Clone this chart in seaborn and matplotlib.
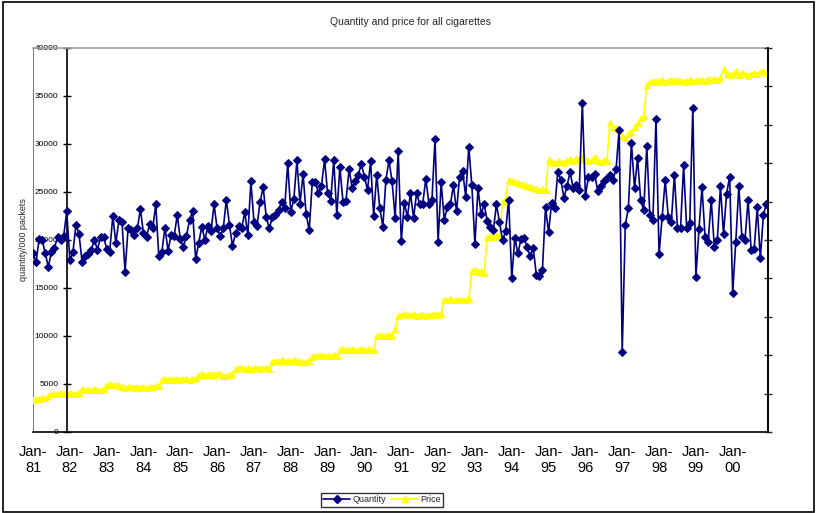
import numpy as np
import pandas as pd
import matplotlib
matplotlib.use("Agg")
import matplotlib.pyplot as plt
import seaborn as sns
from matplotlib.patches import Rectangle
from matplotlib.lines import Line2D

# monthly quantity ('000 packets, in thousands), Jan 1981 - Dec 2000
quantity = [
    18.6, 17.7, 20.1, 20.0, 18.6, 17.2, 18.8, 19.2, 20.3, 20.0, 20.4, 23.0,   # 81
    17.9, 18.7, 21.6, 20.6, 17.7, 18.3, 18.5, 19.0, 20.0, 19.0, 20.3, 20.3,   # 82
    19.1, 18.8, 22.5, 19.7, 22.1, 21.9, 16.7, 21.3, 21.0, 20.5, 21.2, 23.2,   # 83
    20.7, 20.3, 21.7, 21.2, 23.7, 18.3, 18.8, 21.3, 18.9, 20.5, 20.4, 22.6,   # 84
    20.1, 19.3, 20.4, 22.1, 23.0, 18.0, 19.7, 21.4, 20.0, 21.5, 20.9, 23.7,   # 85
    21.2, 20.4, 21.2, 24.2, 21.6, 19.4, 20.7, 21.5, 21.2, 22.9, 20.5, 26.1,   # 86
    21.9, 21.5, 24.0, 25.5, 22.4, 21.2, 22.4, 22.6, 23.1, 24.0, 23.3, 28.0,   # 87
    22.9, 24.3, 28.3, 23.8, 26.9, 22.7, 21.0, 26.0, 26.0, 24.9, 25.6, 28.4,   # 88
    24.9, 24.1, 28.3, 22.6, 27.6, 24.0, 24.1, 27.4, 25.4, 26.1, 26.8, 27.9,   # 89
    26.6, 25.2, 28.2, 22.5, 26.8, 23.3, 21.4, 26.3, 28.3, 26.1, 22.3, 29.3,   # 90
    19.9, 23.9, 22.4, 24.9, 22.3, 24.9, 23.7, 23.8, 26.4, 23.8, 24.2, 30.5,   # 91
    19.8, 26.0, 22.1, 23.4, 23.7, 25.7, 23.0, 26.6, 27.2, 24.5, 29.7, 25.7,   # 92
    19.6, 25.4, 22.7, 23.7, 22.0, 21.4, 21.0, 23.7, 21.9, 20.0, 20.9, 24.2,   # 93
    16.0, 20.2, 18.6, 20.1, 20.2, 19.3, 18.3, 19.2, 16.4, 16.2, 16.9, 23.4,   # 94
    20.8, 23.9, 23.3, 27.1, 26.3, 24.4, 25.6, 27.1, 25.4, 25.7, 25.2, 34.3,   # 95
    24.6, 26.6, 26.6, 26.9, 25.1, 25.6, 26.1, 26.5, 26.8, 26.3, 27.4, 31.5,   # 96
    8.3, 21.6, 23.3, 30.1, 25.4, 28.5, 24.2, 23.1, 29.8, 22.6, 22.1, 32.6,    # 97
    18.5, 22.4, 26.2, 22.4, 21.9, 26.8, 21.2, 21.2, 27.8, 21.2, 21.8, 33.8,   # 98
    16.1, 21.1, 25.5, 20.3, 19.8, 24.2, 19.3, 20.0, 25.6, 20.6, 24.8, 26.6,   # 99
    14.5, 19.8, 25.6, 20.3, 20.0, 24.2, 19.0, 19.1, 23.4, 18.1, 22.6, 23.8,   # 00
]

# monthly price (thousands), same months
price = [
    3.35, 3.40, 3.45, 3.50, 3.55, 3.70, 3.95, 4.00, 3.95, 4.05, 4.00, 3.95,   # 81
    4.05, 4.00, 3.95, 4.05, 4.45, 4.40, 4.35, 4.40, 4.45, 4.35, 4.40, 4.45,   # 82
    4.90, 4.95, 4.85, 4.90, 4.80, 4.65, 4.60, 4.65, 4.70, 4.60, 4.65, 4.60,   # 83
    4.65, 4.60, 4.70, 4.65, 4.75, 4.80, 5.45, 5.55, 5.45, 5.50, 5.40, 5.50,   # 84
    5.45, 5.55, 5.50, 5.45, 5.55, 5.60, 5.95, 6.00, 5.90, 5.95, 6.00, 5.95,   # 85
    6.05, 6.00, 5.85, 5.80, 5.90, 6.00, 6.55, 6.65, 6.70, 6.60, 6.65, 6.60,   # 86
    6.65, 6.70, 6.60, 6.65, 6.70, 6.60, 7.30, 7.40, 7.35, 7.45, 7.40, 7.35,   # 87
    7.40, 7.45, 7.35, 7.30, 7.25, 7.30, 7.40, 7.85, 7.95, 7.90, 8.00, 7.95,   # 88
    7.90, 7.95, 8.00, 7.95, 8.55, 8.60, 8.55, 8.50, 8.60, 8.55, 8.50, 8.60,   # 89
    8.55, 8.60, 8.50, 8.55, 10.05, 10.10, 10.00, 10.05, 10.10, 10.05, 10.70, 12.10,  # 90
    12.20, 12.25, 12.15, 12.20, 12.25, 12.10, 12.15, 12.20, 12.10, 12.15, 12.20, 12.25,  # 91
    12.20, 12.30, 13.80, 13.75, 13.85, 13.70, 13.75, 13.80, 13.70, 13.75, 13.85, 16.80,  # 92
    16.90, 16.70, 16.80, 16.60, 20.30, 20.40, 20.35, 20.50, 20.45, 24.00, 24.30, 26.30,  # 93
    26.10, 26.00, 25.90, 25.80, 25.70, 25.60, 25.50, 25.40, 25.30, 25.20, 25.35, 25.25,  # 94
    28.30, 28.10, 28.00, 28.20, 28.10, 28.00, 28.30, 28.40, 28.20, 28.50, 28.30, 28.60,  # 95
    28.40, 28.20, 28.30, 28.60, 28.20, 28.10, 28.30, 28.20, 32.20, 31.80, 31.70, 31.50,  # 96
    30.80, 30.60, 31.00, 31.20, 31.80, 32.20, 32.70, 32.90, 36.10, 36.50, 36.60, 36.50,  # 97
    36.60, 36.70, 36.50, 36.60, 36.70, 36.55, 36.65, 36.60, 36.50, 36.60, 36.70, 36.60,  # 98
    36.55, 36.65, 36.70, 36.60, 36.75, 36.70, 36.80, 36.70, 36.90, 37.80, 37.30, 37.20,  # 99
    37.30, 37.60, 37.20, 37.40, 37.30, 37.10, 37.30, 37.40, 37.30, 37.50, 37.60, 37.40,  # 00
]

year_labels = ['81', '82', '83', '84', '85', '86', '87', '88', '89', '90',
               '91', '92', '93', '94', '95', '96', '97', '98', '99', '00']

W, H = 818, 513
navy = '#000080'
yellow = '#FFFF00'

df = pd.DataFrame({
    'month': np.arange(len(quantity)),
    'Quantity': np.array(quantity) * 1000,
    'Price': np.array(price) * 1000,
})

sns.set_style('white')
plt.rcParams['font.family'] = ['Liberation Sans', 'DejaVu Sans']

fig = plt.figure(figsize=(W / 100, H / 100), dpi=100)
ax = fig.add_axes([33 / W, 1 - 432 / H, (768 - 33) / W, (432 - 48) / H])

sns.lineplot(data=df, x='month', y='Price', ax=ax, color=yellow, linewidth=1.2,
             marker='^', markersize=5, markeredgecolor=yellow, zorder=2)
sns.lineplot(data=df, x='month', y='Quantity', ax=ax, color=navy, linewidth=1.2,
             marker='D', markersize=4.2, markeredgecolor=navy, zorder=3)

# value axis crosses the category axis near the end of 1981
# (set before tick labels: moving a spine resets the ticks)
ax.spines['left'].set_position(('data', 11))

ax.set_xlim(0, 239.5)
ax.set_ylim(0, 40000)
ax.set_xticks(np.arange(0, 240, 12))
ax.set_xticklabels(['Jan-\n' + y for y in year_labels])
ax.set_yticks(np.arange(0, 40001, 5000))
ax.set_yticklabels([str(v) for v in range(0, 40001, 5000)])
ax.set_xlabel('')
ax.set_ylabel('quantity/000 packets', fontsize=6.5)
ax.yaxis.set_label_coords(-0.007, 0.5)

for s in ['left', 'bottom', 'right']:
    ax.spines[s].set_color('black')
    ax.spines[s].set_linewidth(1.2)
ax.spines['top'].set_color('#a0a0a0')
ax.spines['top'].set_linewidth(1.2)
ax.axvline(0, color='#606060', linewidth=1.2, zorder=1)

ax.tick_params(axis='x', direction='inout', length=6, width=1, pad=6,
               colors='black', labelsize=10.5)
ax.tick_params(axis='y', direction='inout', length=6, width=1, pad=3,
               colors='black', labelsize=6)

ax2 = ax.twinx()
ax2.set_ylim(0, 40000)
ax2.set_yticks(np.arange(0, 40001, 4000))
ax2.tick_params(axis='y', direction='inout', length=6, width=1, labelright=False)
for s in ['left', 'top', 'bottom']:
    ax2.spines[s].set_visible(False)
ax2.spines['right'].set_color('black')
ax2.spines['right'].set_linewidth(1.2)

fig.text(410 / W, 1 - 22 / H, 'Quantity and price for all cigarettes',
         ha='center', va='center', fontsize=7.5)

handles = [
    Line2D([], [], color=navy, marker='D', markersize=4, linewidth=1.2, label='Quantity'),
    Line2D([], [], color=yellow, marker='^', markersize=5, linewidth=1.2, label='Price'),
]
leg = fig.legend(handles=handles, loc='center', bbox_to_anchor=(382 / W, 1 - 500 / H),
                 ncol=2, fontsize=6.5, frameon=True, fancybox=False, shadow=False,
                 edgecolor='black', borderpad=0.25, handlelength=3, handletextpad=0.2,
                 columnspacing=0.6, borderaxespad=0)
leg.get_frame().set_linewidth(1)

fig.patches.append(Rectangle((3 / W, 1 / H), (814 - 3) / W, (512 - 1.5) / H,
                             transform=fig.transFigure, fill=False,
                             edgecolor='black', linewidth=1.2))

fig.savefig('out.png', dpi=100)
